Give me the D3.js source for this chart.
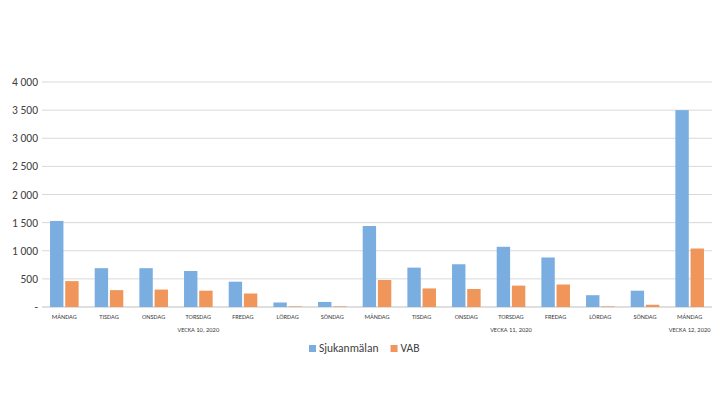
<!DOCTYPE html>
<html><head><meta charset="utf-8">
<script src="https://cdn.jsdelivr.net/npm/d3@7"></script>
<style>body{margin:0;background:#fff}text{font-family:Calibri,Carlito,"Liberation Sans",sans-serif}</style>
</head><body><svg id="c" width="720" height="405"></svg>
<script>
var days = ['MÅNDAG','TISDAG','ONSDAG','TORSDAG','FREDAG','LÖRDAG','SÖNDAG',
  'MÅNDAG','TISDAG','ONSDAG','TORSDAG','FREDAG','LÖRDAG','SÖNDAG','MÅNDAG'];
var weeks = [{label:'VECKA 10, 2020', from:0, to:6}, {label:'VECKA 11, 2020', from:7, to:13}, {label:'VECKA 12, 2020', from:14, to:14}];
var sjuk = [1530, 690, 690, 640, 450, 80, 90, 1440, 700, 760, 1070, 880, 210, 290, 3500];
var vab = [460, 300, 310, 290, 240, 10, 10, 480, 330, 320, 380, 400, 10, 40, 1040];
var yTicks = [0, 500, 1000, 1500, 2000, 2500, 3000, 3500, 4000];
var series = [{name:'Sjukanmälan', values:sjuk, color:'#6fa8dc'}, {name:'VAB', values:vab, color:'#f4a261'}];
series[0].color = '#7aaee0'; series[1].color = '#f0965a';

var svg = d3.select('#c');
var x = d3.scaleBand().domain(d3.range(days.length)).range([42, 712]);
var y = d3.scaleLinear().domain([0, 4000]).range([307, 82]);

var fmt = function(v){ return v === 0 ? '-' : d3.format(',')(v).replace(',', '\u2009'); };
var fmt2 = function(v){ return v === 0 ? '-' : d3.format(',')(v).replace(',', ' '); };

svg.selectAll('.grid').data(yTicks.slice(1)).enter().append('line')
  .attr('x1', 42).attr('x2', 712).attr('y1', function(d){return y(d);}).attr('y2', function(d){return y(d);})
  .attr('stroke', '#d9d9d9').attr('stroke-width', 1);
svg.append('line').attr('x1', 42).attr('x2', 712).attr('y1', y(0)).attr('y2', y(0)).attr('stroke', '#bfbfbf');

svg.selectAll('.yl').data(yTicks).enter().append('text')
  .attr('x', 38).attr('y', function(d){return y(d) + 4;}).attr('text-anchor', 'end')
  .attr('font-size', 11.5).attr('fill', '#404040').text(fmt2);

var bw = x.bandwidth() * 0.3;
series.forEach(function(s, k) {
  svg.selectAll('.b' + k).data(s.values).enter().append('rect')
    .attr('x', function(d, i){ return x(i) + x.bandwidth() * 0.18 + k * (bw + x.bandwidth() * 0.04); })
    .attr('y', function(d){ return y(d); })
    .attr('width', bw).attr('height', function(d){ return y(0) - y(d); })
    .attr('fill', s.color);
});

svg.selectAll('.xl').data(days).enter().append('text')
  .attr('x', function(d, i){ return x(i) + x.bandwidth() / 2; }).attr('y', 319)
  .attr('text-anchor', 'middle').attr('font-size', 6.5).attr('fill', '#404040').text(function(d){return d;});

svg.selectAll('.wl').data(weeks).enter().append('text')
  .attr('x', function(d){ return (x(d.from) + x(d.to) + x.bandwidth()) / 2; }).attr('y', 332)
  .attr('text-anchor', 'middle').attr('font-size', 6.5).attr('fill', '#404040').text(function(d){return d.label;});

var lg = svg.append('g').attr('transform', 'translate(309,352)');
var lx = 0;
series.forEach(function(s) {
  lg.append('rect').attr('x', lx).attr('y', -7).attr('width', 7).attr('height', 7).attr('fill', s.color);
  var t = lg.append('text').attr('x', lx + 10).attr('y', 0).attr('font-size', 11.5).attr('fill', '#404040').text(s.name);
  lx += 10 + t.node().getComputedTextLength() + 12;
});
</script></body></html>
